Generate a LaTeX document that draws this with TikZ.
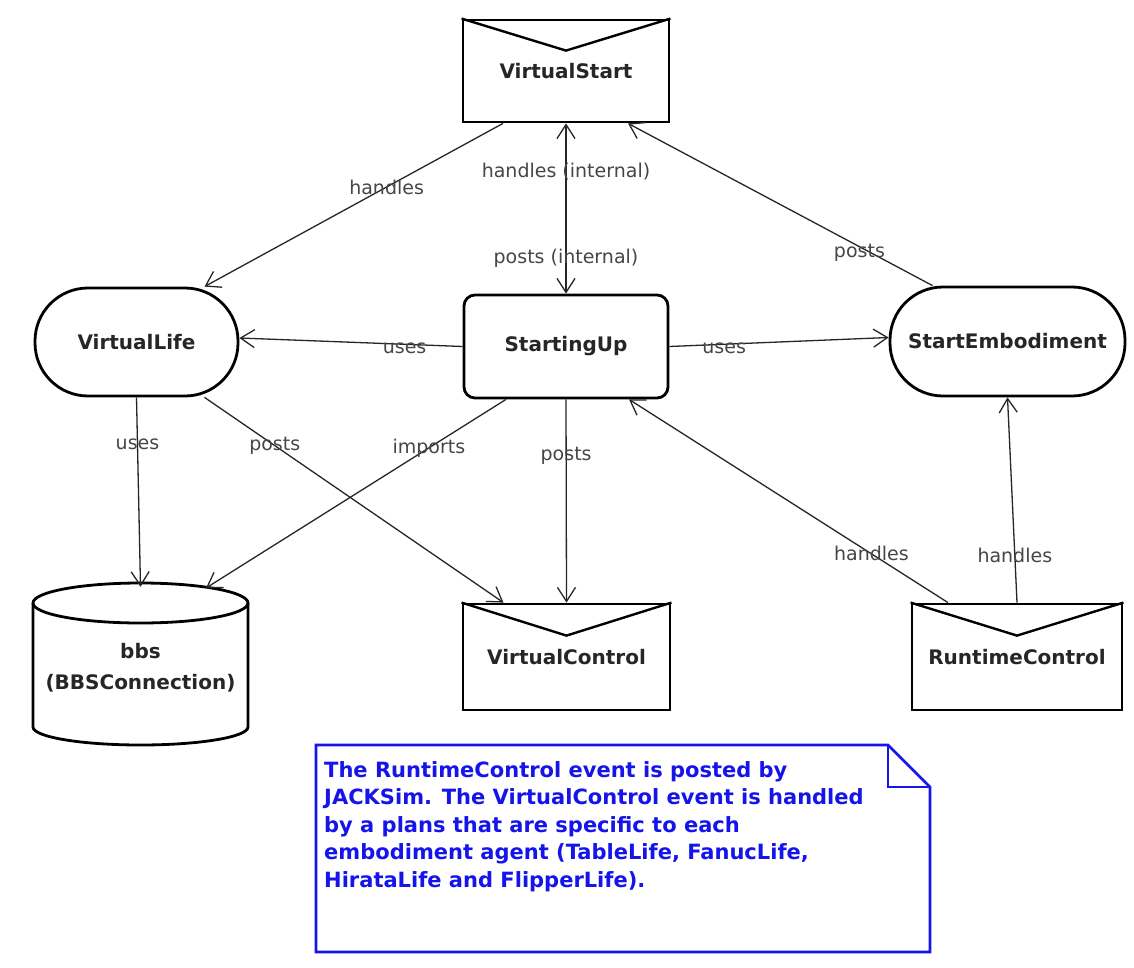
\documentclass[tikz,border=0pt]{standalone}
\usepackage{fontspec}
\setmainfont{DejaVu Sans}
\usetikzlibrary{arrows.meta}
\definecolor{notecol}{RGB}{20,20,235}
\definecolor{lblcol}{RGB}{70,70,70}
\begin{document}
\begin{tikzpicture}[x=1pt,y=-1pt,
  box/.style={draw=black, line width=2.8pt, inner sep=0pt, align=center,
    font=\fontsize{20}{24}\selectfont\bfseries, text=black!85},
  envbox/.style={box},
  stadium/.style={box, rounded corners=53pt},
  roundbox/.style={box, rounded corners=11pt},
  flap/.style={line width=2.4pt},
  conn/.style={draw=black!85, line width=1.3pt, -{Straight Barb[length=14pt,width=18pt,line width=1.3pt]}},
  dconn/.style={draw=black!85, line width=1.3pt, {Straight Barb[length=14pt,width=18pt,line width=1.3pt]}-{Straight Barb[length=14pt,width=18pt,line width=1.3pt]}},
  elabel/.style={font=\fontsize{19}{22}\selectfont, text=lblcol, inner sep=0pt},
  notetext/.style={font=\fontsize{21}{27.6}\selectfont\bfseries, text=notecol, align=left, inner sep=0pt},
  noteline/.style={draw=notecol, line width=2.6pt, line join=miter}
]
\useasboundingbox[fill=white] (0,0) rectangle (1134,968);

% nodes
\node[envbox, minimum width=206pt, minimum height=102pt] (vstart) at (566,71) {VirtualStart};
\draw[flap] (vstart.north west) -- ([yshift=-32pt]vstart.north) -- (vstart.north east);

\node[stadium, minimum width=203pt, minimum height=108pt] (vlife) at (136.5,342) {VirtualLife};
\node[roundbox, minimum width=204pt, minimum height=103pt] (sup) at (566,346.5) {StartingUp};
\node[stadium, minimum width=235pt, minimum height=109pt] (semb) at (1007.5,341.5) {StartEmbodiment};

\node[envbox, minimum width=207pt, minimum height=106pt] (vctrl) at (566.5,657) {VirtualControl};
\draw[flap] (vctrl.north west) -- ([yshift=-33pt]vctrl.north) -- (vctrl.north east);

\node[envbox, minimum width=210pt, minimum height=106pt] (rctrl) at (1017,657) {RuntimeControl};
\draw[flap] (rctrl.north west) -- ([yshift=-33pt]rctrl.north) -- (rctrl.north east);

% cylinder
\node[inner sep=0pt, minimum width=215pt, minimum height=162pt, align=center,
  font=\fontsize{20}{31}\selectfont\bfseries, text=black!85] (bbs) at (140.5,668) {bbs\\(BBSConnection)};
\draw[line width=2.8pt] (140.5,603) ellipse [x radius=107.5pt, y radius=20pt];
\draw[line width=2.8pt] (33,603) -- (33,727) arc[start angle=180,end angle=360,x radius=107.5pt,y radius=18pt] -- (248,603);
\coordinate (bbsR) at (206,588);

% connectors
\draw[conn] ([xshift=-63pt]vstart.south) -- node[elabel,pos=0.39]{handles} ([xshift=68pt]vlife.north);
\draw[dconn] (vstart.south) -- node[elabel,pos=0.28]{handles (internal)} node[elabel,pos=0.79]{posts (internal)} (sup.north);
\draw[conn] ([xshift=-75pt]semb.north) -- node[elabel,pos=0.24,yshift=-6pt]{posts} ([xshift=62pt]vstart.south);
\draw[conn] (sup.west) -- node[elabel,pos=0.26,yshift=-4pt]{uses} ([yshift=4pt]vlife.east);
\draw[conn] (sup.east) -- node[elabel,pos=0.25,yshift=-4pt]{uses} ([yshift=4pt]semb.west);
\draw[conn] (vlife.south) -- node[elabel,pos=0.25]{uses} (bbs.north);
\draw[conn] ([xshift=68pt]vlife.south) -- node[elabel,pos=0.235]{posts} ([xshift=-63pt]vctrl.north);
\draw[conn] ([xshift=-60pt]sup.south) -- node[elabel,pos=0.257]{imports} (bbsR);
\draw[conn] (sup.south) -- node[elabel,pos=0.28]{posts} (vctrl.north);
\draw[conn] ([xshift=-69pt]rctrl.north) -- node[elabel,pos=0.24]{handles} ([xshift=63pt]sup.south);
\draw[conn] (rctrl.north) -- node[elabel,pos=0.23]{handles} (semb.south);

% note
\draw[noteline] (316,745) -- (888,745) -- (930,787) -- (930,952) -- (316,952) -- cycle;
\draw[noteline] (888,745) -- (888,787) -- (930,787);
\node[notetext, anchor=north west] (note) at (324,761) {The RuntimeControl event is posted by\\JACKSim. The VirtualControl event is handled\\by a plans that are specific to each\\embodiment agent (TableLife, FanucLife,\\HirataLife and FlipperLife).};
\end{tikzpicture}
\end{document}
